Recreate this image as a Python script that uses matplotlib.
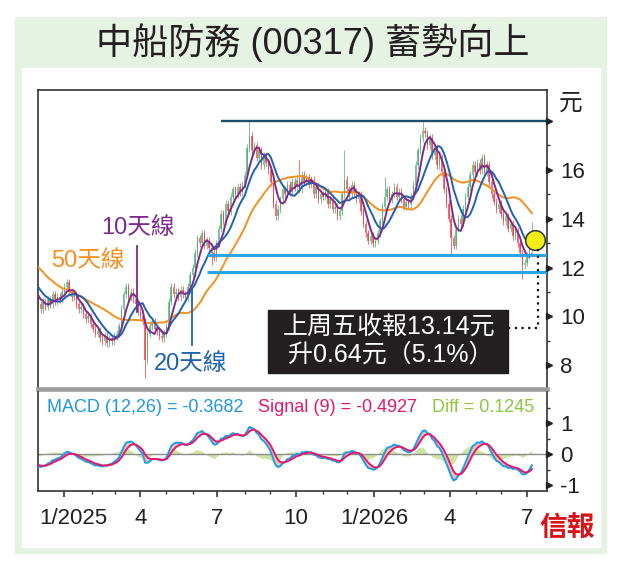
import numpy as np
import pandas as pd
import matplotlib
matplotlib.use("Agg")
import matplotlib.pyplot as plt
from matplotlib.patches import Rectangle
from matplotlib.lines import Line2D
from matplotlib.transforms import ScaledTranslation

# ---------------- data (closing prices, one value every 2 trading days) ----------------
closes_warmup = [12.2, 12.6, 13.0, 13.4, 13.0, 12.8, 12.5, 12.9, 12.6, 12.3, 12.5, 12.2,
                 12.0, 12.4, 12.1, 11.9, 11.7, 11.8, 11.5, 11.3, 11.4, 11.1, 10.9, 11.0, 10.8]
closes_2025a = [  # Dec 2024 - Jun 2025
    10.5, 10.3, 10.6, 10.4, 10.7, 10.5, 10.9, 10.6, 10.8, 10.7, 11.0,
    11.2, 11.4, 11.0, 10.8, 10.9, 10.5, 10.3, 10.4, 10.1, 9.9, 10.0, 9.7,
    9.5, 9.3, 9.4, 9.1, 9.0, 9.2, 8.9, 9.1, 9.0, 9.2,
    9.3, 9.6, 10.3, 10.9, 11.2, 10.8, 11.0, 10.7, 10.5, 10.2,
    10.0, 9.8, 8.2, 9.3, 9.6, 9.8, 9.5, 9.4, 9.2, 9.1, 9.3,
    9.6, 10.6, 11.2, 10.9, 11.0, 10.8, 11.1, 10.9, 10.8, 11.2, 11.7,
    12.0, 12.6, 13.2, 13.0, 13.4, 12.9, 13.1, 12.8, 12.6, 12.4, 13.0]
closes_2025b = [  # Jul 2025 - Dec 2025
    13.6, 14.2, 13.9, 14.6, 14.3, 14.9, 15.2, 15.0, 15.3, 15.1, 15.4,
    15.8, 16.9, 17.4, 16.8, 17.0, 16.5, 16.8, 16.2, 16.6, 16.3, 16.0,
    15.5, 14.6, 14.1, 14.4, 14.8, 15.2, 15.0, 15.4, 15.1, 15.5, 15.3,
    15.6, 15.2, 15.8, 15.5, 15.7, 15.4, 15.6, 15.0, 15.3, 14.8, 15.0,
    14.9, 15.1, 14.6, 14.8, 14.4, 14.5, 14.1, 14.3, 15.0, 15.6,
    15.2, 15.0, 15.4, 15.1, 14.8, 15.0, 14.3, 13.8, 13.4, 13.1, 13.3, 13.0]
closes_2026 = [  # Jan 2026 - Jul 2026
    13.1, 13.4, 13.9, 14.5, 14.9, 15.2, 14.8, 15.0, 15.3, 14.9, 15.1,
    14.8, 14.5, 14.7, 14.6, 14.9, 15.4, 16.2, 16.8, 17.3, 17.6,
    17.5, 17.0, 17.3, 16.6, 16.9, 16.2, 16.5, 15.9, 15.2, 14.6, 14.0,
    13.2, 12.9, 13.6, 14.0, 13.8, 14.4, 14.9, 15.3, 15.8, 16.2, 15.9,
    16.3, 16.0, 16.5, 15.9, 16.2, 15.5, 15.0, 14.7, 14.4, 14.6,
    14.2, 13.9, 14.1, 13.6, 13.8, 13.3, 13.5, 13.0, 12.6, 12.1, 12.2,
    12.5, 12.8, 13.14]
# notable intraday extremes (sample index -> price)
high_marks = {89: 18.05, 110: 16.4, 129: 16.8, 146: 15.7, 162: 17.95, 208: 13.85}
low_marks = {45: 7.5, 73: 12.1, 174: 12.55, 204: 11.55}

resistance = 18.0
supports = [12.5, 11.8]
resist_from = "2025-07-04"
support_from = "2025-06-18"
x_labels = ["1/2025", "4", "7", "10", "1/2026", "4", "7"]
price_ticks = [8, 10, 12, 14, 16, 18]
price_labels = ["8", "10", "12", "14", "16", ""]
macd_ticks = [-1, 0, 1]
title = "中船防務 (00317) 蓄勢向上"
box_lines = ["上周五收報13.14元", "升0.64元（5.1%）"]
macd_txt = "MACD (12,26) = -0.3682"
signal_txt = "Signal (9) = -0.4927"
diff_txt = "Diff = 0.1245"

# ---------------- derived series ----------------
vis = closes_2025a + closes_2025b + closes_2026
allc = np.array(closes_warmup + vis, dtype=float)
nw = len(closes_warmup)
xs_all = np.arange(-2 * nw, 2 * len(vis), 2)  # business-day index, 0 = 2024-12-02
s = pd.Series(allc)
ma10 = s.rolling(5).mean().values
ma20 = s.rolling(10).mean().values
ma50 = s.rolling(25).mean().values
ema12 = s.ewm(span=6.04, adjust=False).mean()
ema26 = s.ewm(span=13.0, adjust=False).mean()
macd = (ema12 - ema26).values
signal = pd.Series(macd).ewm(span=4.56, adjust=False).mean().values
diff = macd - signal

opens = np.r_[allc[0], allc[:-1]]
hi = np.maximum(opens, allc) + 0.15
lo = np.minimum(opens, allc) - 0.15
for k, v in high_marks.items():
    hi[nw + k] = v
for k, v in low_marks.items():
    lo[nw + k] = v

bdays = pd.bdate_range("2024-12-02", "2026-07-31")
month_start = [i for i in range(len(bdays)) if i == 0 or bdays[i].month != bdays[i - 1].month]
month_start = month_start[1:]
major_idx = [i for i in month_start if bdays[i].month in (1, 4, 7, 10)]

# ---------------- figure ----------------
W, H = 620, 569
fig = plt.figure(figsize=(6.2, 5.69), dpi=100)
def fx(x): return x / W
def fy(y): return 1 - y / H

fig.patches.append(Rectangle((fx(15), fy(553)), (606 - 15) / W, (553 - 17) / H,
                             transform=fig.transFigure, color="#e6f2e4", zorder=-2))
fig.patches.append(Rectangle((fx(22), fy(547)), (600 - 22) / W, (547 - 68) / H,
                             transform=fig.transFigure, color="white", zorder=-1))

LAT = ["Liberation Sans", "DejaVu Sans"]
CJK = ["Liberation Sans", "Noto Sans CJK TC"]
dark = "#231f20"

fig.text(fx(313), fy(43), title, ha="center", va="center", fontsize=26,
         family=CJK, color=dark)

L, R = 38.3, 546.7
ax1 = fig.add_axes([fx(L), fy(389), (R - L) / W, (389 - 90) / H])
ax2 = fig.add_axes([fx(L), fy(490.7), (R - L) / W, (490.7 - 391.5) / H])
xlim = (0, 428.5)
for ax in (ax1, ax2):
    ax.set_xlim(*xlim)
    ax.set_facecolor("white")
    for sp in ("left", "right", "top", "bottom"):
        ax.spines[sp].set_color("#333333")
        ax.spines[sp].set_linewidth(1.2)

# candles
up = allc >= opens
cols = np.where(up, "#3fae6a", "#e8353c")
ax1.vlines(xs_all, lo, hi, colors=cols, lw=0.7, alpha=0.7, zorder=2)
body = np.maximum(np.abs(allc - opens), 0.04)
ax1.bar(xs_all, body, bottom=np.minimum(opens, allc), width=1.2, color=cols,
        alpha=0.7, lw=0, zorder=2)
ax1.plot(xs_all, ma50, color="#f5901f", lw=1.4, zorder=3)
ax1.plot(xs_all, ma20, color="#1d62b3", lw=1.4, zorder=4)
ax1.plot(xs_all, ma10, color="#7e2b8f", lw=1.4, zorder=5)

r0 = bdays.get_loc(pd.Timestamp(resist_from))
s0 = bdays.get_loc(pd.Timestamp(support_from))
ax1.hlines(resistance, r0, xlim[1], color="#1f4e6b", lw=1.7, zorder=6)
ax1.hlines(supports, s0, xlim[1], color="#27a4e3", lw=2.1, zorder=6)
ax1.scatter([xs_all[-1] + 2.5], [allc[-1]], s=200, color="#f3ee16", edgecolor="#333333",
            lw=1.1, zorder=8)

ax1.set_ylim(7.03, 19.27)
ax1.spines["bottom"].set_color("#9b9b9b")
ax1.spines["bottom"].set_linewidth(3.3)
ax1.tick_params(axis="x", bottom=False, labelbottom=False)
ax1.yaxis.tick_right()
ax1.set_yticks(price_ticks)
ax1.set_yticklabels(price_labels)
ax1.set_yticks(np.arange(9, 19, 2), minor=True)
ax1.tick_params(axis="y", which="major", length=0, pad=9.6, labelsize=16, labelcolor=dark)
ax1.tick_params(axis="y", which="minor", length=2.5, width=1, color="#333333")
for t in ax1.get_yticklabels():
    t.set_family(LAT)
off = ScaledTranslation(0.025, 0, fig.dpi_scale_trans)
ax1.plot(np.ones(len(price_ticks)), price_ticks, ls="none", marker=">", ms=5, color="#222222",
         transform=ax1.get_yaxis_transform() + off, clip_on=False, zorder=9)
fig.text(fx(559), fy(104), "元", fontsize=17, family=CJK, color=dark, va="center", ha="left")

# MACD panel
ax2.fill_between(xs_all, 0, diff, color="#cfe3a3", lw=0, zorder=1)
ax2.axhline(0, color="#8c8c8c", lw=1, zorder=2)
ax2.fill_between(xs_all, macd, signal, color="#efc4ad", lw=0, zorder=2)
ax2.plot(xs_all, macd, color="#1c9ce8", lw=1.4, zorder=3)
ax2.plot(xs_all, signal, color="#e3196c", lw=1.4, zorder=4)
ax2.set_ylim(-1.18, 2.02)
ax2.spines["top"].set_visible(False)
ax2.yaxis.tick_right()
ax2.set_yticks(macd_ticks)
ax2.set_yticklabels(["-1", "0", "1"])
ax2.set_yticks([-0.5, 0.5, 1.5], minor=True)
ax2.tick_params(axis="y", which="major", length=0, pad=9.6, labelsize=16, labelcolor=dark)
ax2.tick_params(axis="y", which="minor", length=2.5, width=1, color="#333333")
for t in ax2.get_yticklabels():
    t.set_family(LAT)
ax2.plot(np.ones(3), macd_ticks, ls="none", marker=">", ms=5, color="#222222",
         transform=ax2.get_yaxis_transform() + off, clip_on=False, zorder=9)
ax2.set_xticks(major_idx)
ax2.set_xticklabels(x_labels)
ax2.set_xticks(month_start, minor=True)
ax2.tick_params(axis="x", which="major", length=4.3, width=1.2, pad=8, labelsize=16,
                labelcolor=dark, color="#333333")
ax2.tick_params(axis="x", which="minor", length=2.5, width=1, color="#333333")
for i, t in enumerate(ax2.get_xticklabels()):
    t.set_family(LAT)
    if i == 0:
        t.set_transform(t.get_transform() + ScaledTranslation(0.085, 0, fig.dpi_scale_trans))

fig.text(fx(47), fy(408), macd_txt, color="#1f97e6", fontsize=13, family=LAT, va="center")
fig.text(fx(258), fy(408), signal_txt, color="#e3196c", fontsize=13, family=LAT, va="center")
fig.text(fx(432), fy(408), diff_txt, color="#8dc63f", fontsize=13, family=LAT, va="center")

# annotations
fig.text(fx(138), fy(228), "10天線", color="#7e2b8f", fontsize=17, family=CJK, ha="center", va="center")
fig.text(fx(88), fy(261), "50天線", color="#f5901f", fontsize=17, family=CJK, ha="center", va="center")
fig.text(fx(191), fy(364), "20天線", color="#1d62b3", fontsize=17, family=CJK, ha="center", va="center")
fig.add_artist(Line2D([fx(137), fx(137)], [fy(246), fy(312)], color="#7e2b8f", lw=1.3, zorder=7))
fig.add_artist(Line2D([fx(192), fx(192)], [fy(290), fy(345)], color="#1d62b3", lw=1.3, zorder=7))
fig.add_artist(Line2D([fx(538), fx(538), fx(509)], [fy(249), fy(328), fy(328)], color="#111111",
                      lw=1.6, ls=(0, (1, 2)), zorder=7))
fig.patches.append(Rectangle((fx(268), fy(373)), (508 - 268) / W, (373 - 310) / H,
                             transform=fig.transFigure, color=dark, zorder=6))
fig.text(fx(389), fy(327), box_lines[0], color="white", fontsize=18, family=CJK, ha="center",
         va="center", zorder=7)
fig.text(fx(391), fy(355), box_lines[1], color="white", fontsize=18, family=CJK, ha="center",
         va="center", zorder=7)

fig.text(fx(567), fy(529), "信報", color="#d7141a", fontsize=20, family=["Noto Sans CJK TC"],
         weight="bold", ha="center", va="center")

fig.savefig("out.png", dpi=100)
